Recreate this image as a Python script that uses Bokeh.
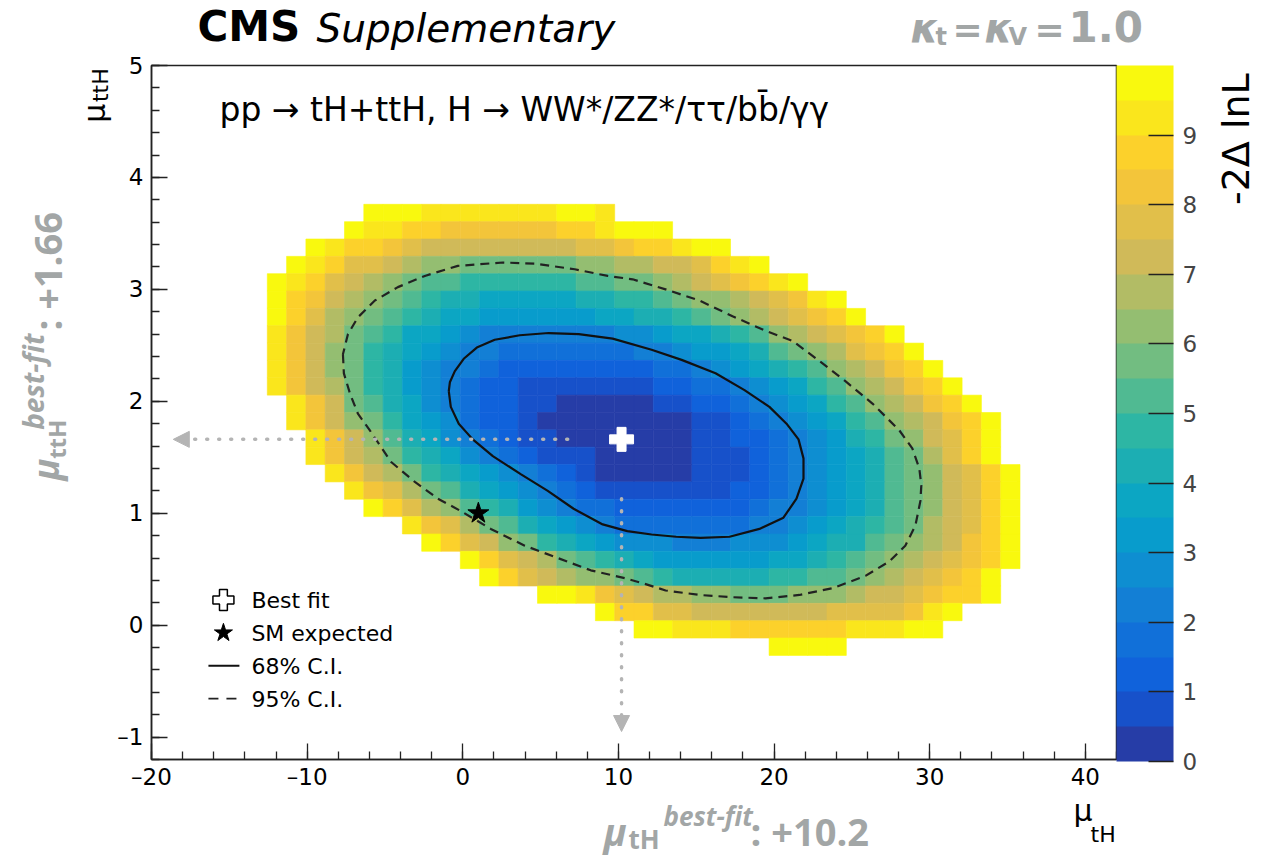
import numpy as np
from bokeh.plotting import figure
from bokeh.layouts import column, row
from bokeh.models import (ColumnDataSource, LinearColorMapper, ColorBar, FixedTicker,
                          SingleIntervalTicker, Label, Arrow, NormalHead, Range1d)
from bokeh.embed import file_html
from bokeh.resources import INLINE

# ------------------------------------------------------------------ data
# 2D scan binning (50 x 40 bins over mu_tH in [-20, 42], mu_ttH in [-1.2, 5])
mu_tH_first_edge = -20.0
mu_tH_bin_width = 1.24
mu_ttH_first_edge = -1.2
mu_ttH_bin_width = 0.155

# -2 Delta lnL, one list per mu_ttH bin row (top to bottom), starting at bin row_first_col
row_bin = [31, 30, 29, 28, 27, 26, 25, 24, 23, 22, 21, 20, 19, 18, 17, 16, 15, 14, 13, 12, 11, 10, 9, 8, 7, 6]
row_first_col = [11, 10, 8, 7, 6, 6, 6, 6, 6, 6, 6, 7, 7, 8, 8, 9, 10, 11, 13, 14, 16, 17, 20, 23, 25, 32]
dnll = [
    [9.8, 9.8, 9.8, 9.3, 9.3, 9.3, 9.3, 9.3, 9.3, 9.3, 9.8, 9.8, 9.3],
    [9.8, 9.3, 9.3, 8.8, 8.8, 8.3, 8.3, 8.3, 8.3, 8.3, 8.3, 8.8, 8.8, 9.3, 9.8, 9.8, 9.8],
    [9.8, 9.3, 8.8, 8.8, 8.3, 7.8, 7.3, 7.3, 7.3, 7.3, 7.3, 7.3, 7.3, 7.3, 7.8, 7.8, 8.3, 8.8, 8.8, 9.3, 9.8, 9.8],
    [9.8, 9.3, 8.8, 7.8, 7.8, 7.3, 6.8, 6.3, 6.3, 5.8, 5.8, 5.8, 5.8, 5.8, 5.8, 6.3, 6.3, 6.8, 6.8, 7.3, 7.3, 7.8, 8.8, 9.3, 9.8],
    [9.8, 9.3, 8.8, 7.8, 7.3, 6.8, 6.3, 5.8, 5.3, 5.3, 4.8, 4.8, 4.8, 4.8, 4.8, 4.8, 5.3, 5.3, 5.8, 5.8, 6.3, 6.8, 7.3, 7.8, 8.3, 8.8, 9.3, 9.8],
    [9.8, 8.8, 8.3, 7.3, 6.8, 6.3, 5.8, 5.3, 4.8, 4.3, 4.3, 3.8, 3.8, 3.8, 3.8, 3.8, 4.3, 4.3, 4.8, 4.8, 5.3, 5.8, 6.3, 6.3, 6.8, 7.3, 7.8, 8.3, 9.3, 9.8],
    [9.8, 8.8, 7.8, 6.8, 6.3, 5.8, 5.3, 4.8, 4.3, 3.8, 3.8, 3.3, 3.3, 3.3, 3.3, 3.3, 3.3, 3.8, 3.8, 4.3, 4.3, 4.8, 5.3, 5.8, 6.3, 6.8, 7.3, 7.8, 8.3, 8.8, 9.8],
    [9.3, 8.3, 7.3, 6.8, 5.8, 5.3, 4.8, 3.8, 3.8, 3.3, 2.8, 2.3, 2.3, 2.3, 2.3, 2.3, 2.3, 2.3, 2.8, 2.8, 3.3, 3.8, 3.8, 4.3, 4.8, 5.3, 6.3, 6.8, 7.3, 7.8, 8.3, 8.8, 9.8],
    [9.3, 8.3, 7.3, 6.3, 5.8, 4.8, 4.3, 3.8, 3.3, 2.8, 2.3, 2.3, 1.8, 1.8, 1.8, 1.8, 1.8, 1.8, 1.8, 2.3, 2.3, 2.8, 3.3, 3.3, 3.8, 4.3, 5.3, 5.8, 6.3, 6.8, 7.8, 8.3, 8.8, 9.8],
    [9.3, 8.3, 7.3, 6.3, 5.8, 4.8, 4.3, 3.3, 2.8, 2.3, 2.3, 1.8, 1.3, 1.3, 1.3, 1.3, 1.3, 1.3, 1.3, 1.3, 1.8, 1.8, 2.3, 2.8, 3.3, 3.8, 4.3, 4.8, 5.3, 6.3, 6.8, 7.3, 8.3, 8.8, 9.8],
    [9.3, 8.3, 7.3, 6.8, 5.8, 4.8, 4.3, 3.3, 2.8, 2.3, 1.8, 1.3, 1.3, 0.8, 0.8, 0.8, 0.8, 0.8, 0.8, 0.8, 1.3, 1.3, 1.8, 1.8, 2.3, 2.8, 3.3, 3.8, 4.8, 5.3, 6.3, 6.8, 7.3, 8.3, 8.8, 9.8],
    [9.3, 8.3, 7.3, 5.8, 5.3, 4.3, 3.8, 2.8, 2.3, 1.8, 1.3, 1.3, 0.8, 0.8, 0.3, 0.3, 0.3, 0.3, 0.3, 0.8, 0.8, 1.3, 1.3, 1.8, 2.3, 2.8, 3.3, 3.8, 4.8, 5.3, 6.3, 6.8, 7.3, 8.3, 8.8, 9.8],
    [9.3, 8.3, 7.3, 6.3, 5.8, 4.8, 3.8, 3.3, 2.8, 1.8, 1.3, 1.3, 0.8, 0.3, 0.3, 0.3, 0.3, 0.3, 0.3, 0.3, 0.3, 0.8, 0.8, 1.3, 1.8, 2.3, 2.8, 3.3, 3.8, 4.8, 5.3, 6.3, 6.8, 7.3, 8.3, 8.8, 9.8],
    [9.3, 8.3, 7.3, 6.3, 5.3, 4.3, 3.8, 2.8, 2.3, 1.8, 1.3, 0.8, 0.8, 0.3, 0.3, 0.3, 0.3, 0.3, 0.3, 0.3, 0.8, 0.8, 1.3, 1.3, 1.8, 2.3, 2.8, 3.3, 4.3, 4.8, 5.8, 6.3, 7.3, 7.8, 8.8, 9.8],
    [9.3, 8.3, 7.3, 6.8, 5.8, 4.8, 4.3, 3.8, 2.8, 2.3, 1.8, 1.3, 0.8, 0.8, 0.8, 0.3, 0.3, 0.3, 0.3, 0.3, 0.8, 0.8, 0.8, 1.3, 1.8, 2.3, 2.8, 3.3, 3.8, 4.3, 5.3, 5.8, 6.8, 7.8, 8.8, 9.8],
    [9.3, 8.3, 7.3, 6.8, 5.8, 4.8, 4.3, 3.8, 3.3, 2.8, 2.3, 1.8, 1.3, 0.8, 0.3, 0.3, 0.3, 0.3, 0.3, 0.8, 0.8, 0.8, 1.3, 1.8, 2.3, 2.8, 3.3, 3.8, 4.3, 5.3, 5.8, 6.3, 7.3, 7.8, 8.8, 9.8],
    [9.3, 8.3, 7.8, 6.8, 5.8, 5.3, 4.3, 3.8, 3.3, 2.8, 2.3, 1.8, 1.3, 0.8, 0.8, 0.8, 0.8, 0.8, 0.8, 0.8, 1.3, 1.3, 1.8, 2.3, 2.8, 3.3, 3.8, 4.3, 5.3, 5.8, 6.3, 7.3, 7.8, 8.8, 9.8],
    [9.8, 8.8, 7.8, 6.8, 6.3, 5.3, 4.8, 4.3, 3.3, 2.8, 2.3, 1.8, 1.8, 1.3, 1.3, 1.3, 1.3, 1.3, 1.3, 1.3, 1.8, 2.3, 2.3, 2.8, 3.3, 3.8, 4.3, 5.3, 5.8, 6.3, 7.3, 7.8, 8.8, 9.8],
    [9.3, 8.3, 7.8, 6.8, 5.8, 5.3, 4.3, 3.8, 3.3, 2.8, 2.3, 1.8, 1.8, 1.8, 1.8, 1.8, 1.8, 1.8, 2.3, 2.3, 2.8, 3.3, 3.8, 4.3, 4.8, 5.3, 5.8, 6.8, 7.3, 7.8, 8.8, 9.8],
    [9.8, 8.8, 7.8, 7.3, 6.3, 5.8, 4.8, 4.3, 3.8, 3.3, 2.8, 2.8, 2.8, 2.3, 2.3, 2.3, 2.8, 2.8, 2.8, 3.3, 3.8, 4.3, 4.3, 5.3, 5.8, 6.3, 6.8, 7.3, 8.3, 8.8, 9.8],
    [9.8, 8.8, 7.8, 7.3, 6.8, 5.8, 5.3, 4.8, 4.3, 3.8, 3.3, 3.3, 3.3, 3.3, 3.3, 3.3, 3.8, 3.8, 4.3, 4.8, 5.3, 5.8, 6.3, 6.8, 7.3, 7.8, 8.3, 8.8, 9.8],
    [9.8, 8.8, 7.8, 7.3, 6.8, 6.3, 6.3, 5.8, 5.3, 4.8, 4.3, 4.3, 4.3, 4.3, 4.3, 4.8, 4.8, 5.3, 5.3, 5.8, 6.3, 6.8, 7.3, 7.8, 8.3, 8.8, 9.8],
    [9.8, 9.8, 9.3, 8.3, 7.8, 7.3, 6.8, 6.8, 6.3, 6.3, 5.8, 5.8, 5.8, 6.3, 6.3, 6.3, 6.8, 7.3, 7.3, 7.8, 8.3, 8.8, 8.8, 9.8],
    [9.8, 8.8, 8.8, 7.8, 7.8, 7.3, 7.3, 7.3, 7.3, 7.3, 7.3, 7.3, 7.8, 7.8, 7.8, 7.8, 8.3, 9.3, 9.8],
    [9.8, 9.8, 9.3, 9.3, 9.3, 8.8, 8.8, 8.8, 8.8, 8.8, 8.8, 9.3, 9.3, 9.3, 9.8, 9.8],
    [9.8, 9.8, 9.8, 9.8],
]

# 68% and 95% C.I. contours (mu_tH, mu_ttH)
ci68_x = [-0.90, -0.77, -0.26, 0.64, 1.93, 3.72, 5.46, 7.12, 8.99, 10.57, 12.13, 13.71, 15.28, 17.14, 19.06,
          20.60, 21.44, 21.89, 21.89, 21.57, 20.80, 19.70, 18.10, 16.24, 14.06, 12.13, 9.63, 7.45, 5.52, 3.66,
          2.05, 0.90, 0.06, -0.51, -0.83, -0.90]
ci68_y = [2.09, 1.95, 1.80, 1.66, 1.51, 1.35, 1.20, 1.04, 0.90, 0.84, 0.81, 0.79, 0.78, 0.79, 0.86,
          0.96, 1.13, 1.31, 1.49, 1.66, 1.80, 1.95, 2.10, 2.25, 2.37, 2.46, 2.56, 2.60, 2.61, 2.59,
          2.55, 2.48, 2.38, 2.27, 2.17, 2.09]
ci95_x = [-7.70, -7.64, -7.25, -6.74, -5.97, -4.62, -3.08, -1.60, -0.13, 1.80, 3.98, 6.10, 8.22, 10.40, 11.68,
          13.03, 15.21, 17.33, 19.45, 21.63, 23.75, 25.87, 27.41, 28.43, 29.08, 29.40, 29.46, 29.33, 28.88,
          28.05, 26.32, 24.58, 22.91, 21.18, 19.45, 17.33, 15.21, 13.03, 10.91, 9.31, 7.19, 4.62, 2.57, -0.32,
          -2.44, -4.17, -5.65, -6.74, -7.38, -7.70]
ci95_y = [2.42, 2.25, 2.07, 1.89, 1.74, 1.46, 1.28, 1.13, 1.02, 0.86, 0.71, 0.60, 0.49, 0.42, 0.37,
          0.31, 0.27, 0.25, 0.24, 0.27, 0.33, 0.44, 0.57, 0.71, 0.89, 1.11, 1.25, 1.40, 1.58,
          1.74, 1.98, 2.18, 2.36, 2.54, 2.63, 2.76, 2.90, 3.00, 3.09, 3.12, 3.18, 3.23, 3.24, 3.21,
          3.12, 3.02, 2.90, 2.75, 2.60, 2.42]

best_fit = (10.2, 1.66)
sm_expected = (1.0, 1.0)
cbar_ticks = [0, 1, 2, 3, 4, 5, 6, 7, 8, 9]
legend_labels = ["Best fit", "SM expected", "68% C.I.", "95% C.I."]

# ------------------------------------------------------------------ palette (ROOT kBird, 20 contours)
stops = [0.0, 0.125, 0.25, 0.375, 0.5, 0.625, 0.75, 0.875, 1.0]
red = [0.2082, 0.0592, 0.0780, 0.0232, 0.1802, 0.5301, 0.8186, 0.9956, 0.9764]
green = [0.1664, 0.3599, 0.5041, 0.6419, 0.7178, 0.7492, 0.7328, 0.7862, 0.9832]
blue = [0.5293, 0.8684, 0.8385, 0.7914, 0.6425, 0.4662, 0.3499, 0.1968, 0.0539]
palette = []
for i in range(20):
    pos = int((i + 0.99) * 255 / 20) / 255.0
    r, g, b = (np.interp(pos, stops, c) for c in (red, green, blue))
    palette.append("#%02x%02x%02x" % (int(r * 255), int(g * 255), int(b * 255)))
mapper = LinearColorMapper(palette=palette, low=0, high=10)

# ------------------------------------------------------------------ cells
left, right, bottom, top, z = [], [], [], [], []
for j, k0, vals in zip(row_bin, row_first_col, dnll):
    for i, v in enumerate(vals):
        k = k0 + i
        left.append(mu_tH_first_edge + mu_tH_bin_width * k)
        right.append(mu_tH_first_edge + mu_tH_bin_width * (k + 1))
        bottom.append(mu_ttH_first_edge + mu_ttH_bin_width * j)
        top.append(mu_ttH_first_edge + mu_ttH_bin_width * (j + 1))
        z.append(v)
cells = ColumnDataSource(dict(left=left, right=right, bottom=bottom, top=top, z=z))

# ------------------------------------------------------------------ page geometry (pixels)
FONT = "DejaVu Sans"
GFONT = "Open Sans"
GRAY = "#a2a6a6"
PAGE_W, PAGE_H = 1262, 857
TOP_H = 51            # strip above the main figure
BOT_Y = 792           # strip below the main figure starts here
LEFT_W = 114          # strip left of the main figure
RIGHT_X = 1205        # strip right of the main figure starts here
FRAME_L, FRAME_T, FRAME_W, FRAME_H = 150, 65, 966, 696
MAIN_W, MAIN_H = RIGHT_X - LEFT_W, BOT_Y - TOP_H

p = figure(width=MAIN_W, height=MAIN_H, x_range=(-20, 42), y_range=(-1.2, 5),
           output_backend="svg", toolbar_location=None,
           min_border_left=FRAME_L - LEFT_W, min_border_right=MAIN_W - (FRAME_L - LEFT_W) - FRAME_W,
           min_border_top=FRAME_T - TOP_H, min_border_bottom=MAIN_H - (FRAME_T - TOP_H) - FRAME_H)
p.xgrid.visible = False
p.ygrid.visible = False
p.outline_line_color = "#222222"
p.outline_line_width = 1.5
p.background_fill_color = "white"
p.border_fill_color = "white"


def X(px):
    return -20 + (px - FRAME_L) / (FRAME_W / 62.0)


def Y(py):
    return 5 - (py - FRAME_T) / (FRAME_H / 6.2)


def strip(w, h, ox, oy):
    f = figure(width=w, height=h, x_range=Range1d(ox, ox + w), y_range=Range1d(oy + h, oy),
               output_backend="svg", toolbar_location=None, min_border=0,
               x_axis_type=None, y_axis_type=None)
    f.outline_line_color = None
    f.background_fill_color = "white"
    f.border_fill_color = "white"
    return f


def lab(fig, px, py, s, size, color="black", style="normal", angle=0, font=FONT, main=False):
    """Place text with its baseline start at page pixel (px, py)."""
    off = (0.388 if font == GFONT else 0.346) * size   # baseline -> middle of the line box
    if angle == 0:
        py = py - off
    else:
        px = px - off
    x, y = (X(px), Y(py)) if main else (px, py)
    fig.add_layout(Label(x=x, y=y, text=s, text_font=font, text_font_size="%dpx" % size,
                         text_font_style=style, text_color=color, angle=angle, angle_units="deg",
                         text_baseline="middle", text_align="left"))


# ------------------------------------------------------------------ main plot
p.quad(left="left", right="right", bottom="bottom", top="top", source=cells,
       fill_color={"field": "z", "transform": mapper},
       line_color={"field": "z", "transform": mapper}, line_width=0.6)

p.line(ci68_x, ci68_y, line_color="#111111", line_width=2.2)
p.line(ci95_x, ci95_y, line_color="#222222", line_width=2.2, line_dash="9 6")

arrow_style = dict(line_color="#b4b4b4", line_width=3.5, line_dash="1 11", line_cap="round")
p.add_layout(Arrow(end=NormalHead(size=16, fill_color="#b4b4b4", line_color="#b4b4b4"),
                   x_start=best_fit[0] - 3.46, y_start=best_fit[1], x_end=-18.6, y_end=best_fit[1],
                   **arrow_style))
p.add_layout(Arrow(end=NormalHead(size=16, fill_color="#b4b4b4", line_color="#b4b4b4"),
                   x_start=best_fit[0], y_start=best_fit[1] - 0.53, x_end=best_fit[0], y_end=-0.95,
                   **arrow_style))

p.scatter([best_fit[0]], [best_fit[1]], marker="plus", size=24, fill_color="white", line_color="white")
p.scatter([sm_expected[0]], [sm_expected[1]], marker="star", size=22, fill_color="black", line_color="black")

# legend (drawn by hand)
leg_rows = [601, 634, 667, 700]
p.scatter([X(222)], [Y(leg_rows[0])], marker="plus", size=21, fill_color="white",
          line_color="black", line_width=1.5)
p.scatter([X(222)], [Y(leg_rows[1])], marker="star", size=19, fill_color="black", line_color="black")
p.line([X(207), X(238)], [Y(leg_rows[2])] * 2, line_color="#111111", line_width=1.8)
p.line([X(207), X(238)], [Y(leg_rows[3])] * 2, line_color="#222222", line_width=1.8, line_dash="10 8")
for s, rrow in zip(legend_labels, leg_rows):
    lab(p, 250, rrow + 8, s, 22, main=True)

lab(p, 218, 121, "pp \u2192 tH+ttH, H \u2192 WW*/ZZ*/\u03c4\u03c4/bb\u0304/\u03b3\u03b3", 33, main=True)

for ax in (p.xaxis[0], p.yaxis[0]):
    ax.axis_line_color = "#222222"
    ax.axis_line_width = 1.5
    ax.major_tick_in = 16
    ax.major_tick_out = 0
    ax.minor_tick_in = 8
    ax.minor_tick_out = 0
    ax.major_tick_line_color = "#222222"
    ax.minor_tick_line_color = "#222222"
    ax.major_tick_line_width = 1.3
    ax.minor_tick_line_width = 1.3
    ax.major_label_text_font = FONT
    ax.major_label_text_font_size = "23px"
    ax.major_label_text_color = "black"
p.xaxis[0].ticker = SingleIntervalTicker(interval=10, num_minor_ticks=5)
p.yaxis[0].ticker = SingleIntervalTicker(interval=1, num_minor_ticks=5)
p.xaxis[0].major_label_overrides = {-20: "\u201320", -10: "\u201310"}
p.yaxis[0].major_label_overrides = {-1: "\u20131"}
p.xaxis[0].major_label_standoff = 4
p.yaxis[0].major_label_standoff = 8

cb = ColorBar(color_mapper=mapper, ticker=FixedTicker(ticks=cbar_ticks), width=57, height=FRAME_H,
              location="top_left", padding=0, margin=4, label_standoff=9,
              major_label_text_font=FONT, major_label_text_font_size="23px",
              major_tick_in=25, major_tick_out=0, major_tick_line_color="#222222",
              major_tick_line_width=1.3, minor_tick_line_color=None,
              bar_line_color=None, border_line_color=None, background_fill_alpha=0)
p.add_layout(cb, "right")

# ------------------------------------------------------------------ top strip
top_fig = strip(PAGE_W, TOP_H, 0, 0)
lab(top_fig, 197, 40.5, "CMS", 42, style="bold")
lab(top_fig, 316, 41, "Supplementary", 39, style="italic")
lab(top_fig, 910, 41, "\u03ba", 40, GRAY, "bold italic")
lab(top_fig, 935, 44.5, "t", 24, GRAY, "bold")
lab(top_fig, 952, 41, "=", 36, GRAY, "bold")
lab(top_fig, 984, 41, "\u03ba", 40, GRAY, "bold italic")
lab(top_fig, 1008, 44.5, "V", 24, GRAY, "bold")
lab(top_fig, 1034, 41, "=", 36, GRAY, "bold")
lab(top_fig, 1068, 40.5, "1.0", 42, GRAY, "bold")

# ------------------------------------------------------------------ left strip (y title, best-fit value)
left_fig = strip(LEFT_W, MAIN_H, 0, TOP_H)
lab(left_fig, 104, 112, "\u03bc", 30, angle=90)
lab(left_fig, 108, 90, "ttH", 22, angle=90)
lab(left_fig, 59, 494, "\u03bc", 36, GRAY, "bold italic", 90, GFONT)
lab(left_fig, 65, 471, "ttH", 24, GRAY, "bold", 90, GFONT)
lab(left_fig, 43, 440, "best-fit", 28, GRAY, "bold italic", 90, GFONT)
lab(left_fig, 61, 334, ": +1.66", 38, GRAY, "bold", 90, GFONT)

# ------------------------------------------------------------------ right strip (colour bar title)
right_fig = strip(PAGE_W - RIGHT_X, MAIN_H, RIGHT_X, TOP_H)
lab(right_fig, 1249, 200, "-2\u0394 lnL", 38, angle=90)

# ------------------------------------------------------------------ bottom strip (x title, best-fit value)
bot_fig = strip(PAGE_W, PAGE_H - BOT_Y, 0, BOT_Y)
lab(bot_fig, 1073, 820, "\u03bc", 30)
lab(bot_fig, 1090, 842, "tH", 22)
lab(bot_fig, 603, 845, "\u03bc", 38, GRAY, "bold italic", 0, GFONT)
lab(bot_fig, 628, 849, "tH", 26, GRAY, "bold", 0, GFONT)
lab(bot_fig, 663, 826, "best-fit", 26, GRAY, "bold italic", 0, GFONT)
lab(bot_fig, 750, 845, ": +10.2", 38, GRAY, "bold", 0, GFONT)

page = column(top_fig, row(left_fig, p, right_fig, spacing=0), bot_fig, spacing=0)
open("out.html", "w").write(file_html(page, INLINE))
